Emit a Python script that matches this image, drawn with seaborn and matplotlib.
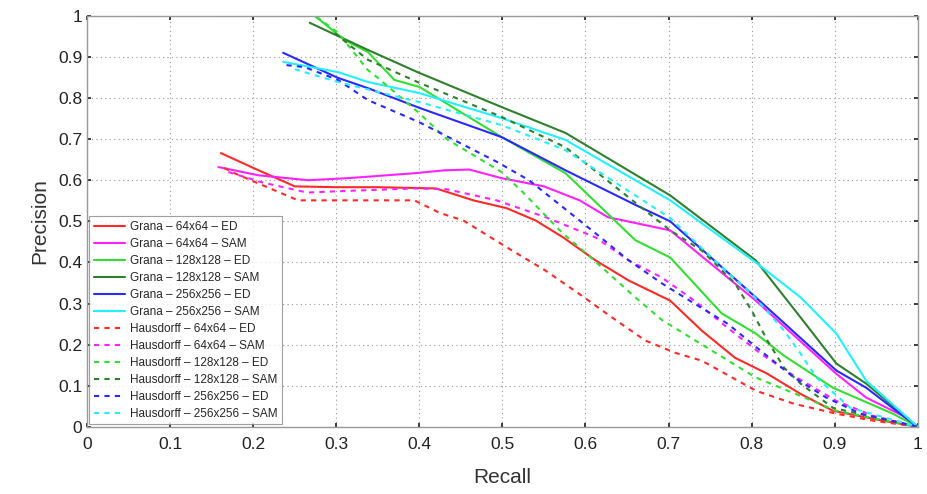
import numpy as np
import pandas as pd
import matplotlib
matplotlib.use("Agg")
import matplotlib.pyplot as plt
import seaborn as sns

# recall / precision points
grana_64_ed_r = [0.161, 0.2, 0.25, 0.3, 0.35, 0.42, 0.465, 0.505, 0.54, 0.573, 0.612, 0.652, 0.702, 0.74, 0.78, 0.819, 0.859, 0.898, 0.958, 1.0]
grana_64_ed_p = [0.666, 0.63, 0.585, 0.583, 0.583, 0.58, 0.551, 0.532, 0.502, 0.461, 0.405, 0.356, 0.307, 0.234, 0.168, 0.129, 0.08, 0.039, 0.015, 0.0]

grana_64_sam_r = [0.158, 0.206, 0.266, 0.314, 0.394, 0.43, 0.46, 0.499, 0.55, 0.593, 0.627, 0.702, 0.805, 0.902, 0.938, 0.982, 1.0]
grana_64_sam_p = [0.632, 0.612, 0.6, 0.605, 0.617, 0.624, 0.626, 0.605, 0.585, 0.551, 0.51, 0.478, 0.307, 0.129, 0.071, 0.027, 0.0]

grana_128_ed_r = [0.274, 0.31, 0.338, 0.37, 0.4, 0.499, 0.576, 0.66, 0.702, 0.764, 0.805, 0.839, 0.898, 0.97, 1.0]
grana_128_ed_p = [1.0, 0.941, 0.912, 0.844, 0.827, 0.705, 0.617, 0.454, 0.412, 0.276, 0.227, 0.173, 0.095, 0.032, 0.0]

grana_128_sam_r = [0.268, 0.338, 0.4, 0.499, 0.576, 0.702, 0.805, 0.859, 0.902, 0.938, 1.0]
grana_128_sam_p = [0.983, 0.917, 0.861, 0.778, 0.715, 0.563, 0.405, 0.266, 0.154, 0.105, 0.0]

grana_256_ed_r = [0.236, 0.302, 0.338, 0.4, 0.499, 0.576, 0.66, 0.702, 0.805, 0.902, 0.938, 0.982, 1.0]
grana_256_ed_p = [0.91, 0.849, 0.824, 0.776, 0.705, 0.624, 0.54, 0.5, 0.315, 0.137, 0.095, 0.027, 0.0]

grana_256_sam_r = [0.236, 0.302, 0.338, 0.4, 0.499, 0.576, 0.702, 0.805, 0.859, 0.902, 0.938, 1.0]
grana_256_sam_p = [0.888, 0.863, 0.839, 0.812, 0.751, 0.698, 0.551, 0.4, 0.315, 0.227, 0.112, 0.0]

haus_64_ed_r = [0.165, 0.174, 0.254, 0.394, 0.425, 0.453, 0.505, 0.552, 0.592, 0.632, 0.672, 0.708, 0.74, 0.805, 0.851, 0.902, 0.946, 1.0]
haus_64_ed_p = [0.63, 0.62, 0.551, 0.551, 0.52, 0.502, 0.437, 0.38, 0.324, 0.266, 0.21, 0.18, 0.161, 0.088, 0.056, 0.032, 0.015, 0.0]

haus_64_sam_r = [0.17, 0.21, 0.265, 0.3, 0.394, 0.433, 0.493, 0.552, 0.612, 0.652, 0.692, 0.731, 0.771, 0.811, 0.851, 0.902, 0.946, 1.0]
haus_64_sam_p = [0.62, 0.595, 0.57, 0.573, 0.58, 0.578, 0.551, 0.51, 0.461, 0.405, 0.363, 0.307, 0.241, 0.178, 0.124, 0.063, 0.027, 0.0]

haus_128_ed_r = [0.276, 0.302, 0.338, 0.35, 0.4, 0.433, 0.499, 0.525, 0.573, 0.597, 0.628, 0.66, 0.692, 0.704, 0.805, 0.902, 1.0]
haus_128_ed_p = [0.998, 0.959, 0.868, 0.849, 0.763, 0.7, 0.62, 0.57, 0.47, 0.429, 0.373, 0.315, 0.26, 0.245, 0.12, 0.039, 0.0]

haus_128_sam_r = [0.298, 0.338, 0.4, 0.499, 0.576, 0.702, 0.74, 0.78, 0.8, 0.819, 0.839, 0.859, 0.898, 1.0]
haus_128_sam_p = [0.958, 0.893, 0.837, 0.754, 0.68, 0.478, 0.429, 0.349, 0.283, 0.21, 0.144, 0.105, 0.046, 0.0]

haus_256_ed_r = [0.24, 0.262, 0.302, 0.338, 0.4, 0.493, 0.532, 0.573, 0.612, 0.652, 0.692, 0.731, 0.771, 0.811, 0.851, 0.89, 0.931, 1.0]
haus_256_ed_p = [0.88, 0.875, 0.844, 0.795, 0.741, 0.645, 0.6, 0.534, 0.471, 0.405, 0.349, 0.3, 0.251, 0.185, 0.12, 0.071, 0.032, 0.0]

haus_256_sam_r = [0.25, 0.3, 0.4, 0.499, 0.576, 0.702, 0.759, 0.8, 0.839, 0.859, 0.878, 0.919, 1.0]
haus_256_sam_p = [0.87, 0.84, 0.79, 0.734, 0.673, 0.508, 0.398, 0.324, 0.234, 0.178, 0.12, 0.046, 0.0]

labels = ["Grana \u2013 64x64 \u2013 ED", "Grana \u2013 64x64 \u2013 SAM",
          "Grana \u2013 128x128 \u2013 ED", "Grana \u2013 128x128 \u2013 SAM",
          "Grana \u2013 256x256 \u2013 ED", "Grana \u2013 256x256 \u2013 SAM",
          "Hausdorff \u2013 64x64 \u2013 ED", "Hausdorff \u2013 64x64 \u2013 SAM",
          "Hausdorff \u2013 128x128 \u2013 ED", "Hausdorff \u2013 128x128 \u2013 SAM",
          "Hausdorff \u2013 256x256 \u2013 ED", "Hausdorff \u2013 256x256 \u2013 SAM"]
curves = [(grana_64_ed_r, grana_64_ed_p), (grana_64_sam_r, grana_64_sam_p),
          (grana_128_ed_r, grana_128_ed_p), (grana_128_sam_r, grana_128_sam_p),
          (grana_256_ed_r, grana_256_ed_p), (grana_256_sam_r, grana_256_sam_p),
          (haus_64_ed_r, haus_64_ed_p), (haus_64_sam_r, haus_64_sam_p),
          (haus_128_ed_r, haus_128_ed_p), (haus_128_sam_r, haus_128_sam_p),
          (haus_256_ed_r, haus_256_ed_p), (haus_256_sam_r, haus_256_sam_p)]
colors = ["#ff2a2a", "#ff22ff", "#33dd33", "#2f7f2f", "#2a2aff", "#22f0ff"] * 2

sns.set_theme(style="white")
plt.rcParams['font.family'] = ['Liberation Sans', 'DejaVu Sans']

fig, ax = plt.subplots(figsize=(9.27, 4.94), dpi=100)
fig.subplots_adjust(left=0.094, right=0.99, top=0.968, bottom=0.136)

for i, (r, p) in enumerate(curves):
    df = pd.DataFrame({"Recall": r, "Precision": p})
    ls = "-" if i < 6 else (0, (2.5, 2.5))
    sns.lineplot(data=df, x="Recall", y="Precision", ax=ax, color=colors[i],
                 linestyle=ls, linewidth=1.5, label=labels[i], sort=False,
                 estimator=None)

ax.set_xlim(0, 1)
ax.set_ylim(0, 1)
ticks = np.round(np.arange(0, 1.01, 0.1), 1)
ticklabels = ["0"] + [f"{t:g}" for t in ticks[1:-1]] + ["1"]
ax.set_xticks(ticks)
ax.set_xticklabels(ticklabels)
ax.set_yticks(ticks)
ax.set_yticklabels(ticklabels)
ax.tick_params(axis="both", labelsize=12.5, colors="#222222", length=3,
               direction="in", bottom=True, left=True, top=True, right=True)
ax.tick_params(axis="x", pad=7)
ax.grid(True, linestyle=(0, (1, 3)), color="#999999", linewidth=0.8)
for s in ax.spines.values():
    s.set_color("#999999")
    s.set_linewidth(1.0)
ax.set_xlabel("Recall", fontsize=15, color="#333333", labelpad=12)
ax.set_ylabel("Precision", fontsize=15, color="#333333", labelpad=6)

leg = ax.legend(loc="lower left", bbox_to_anchor=(0.0, 0.0), borderaxespad=0.2,
                fontsize=8.5, frameon=True, fancybox=False, handlelength=2.6,
                labelspacing=0.42, borderpad=0.4, handletextpad=0.4)
leg.get_frame().set_edgecolor("#888888")
leg.get_frame().set_linewidth(0.8)

fig.savefig("out.png", dpi=100)
